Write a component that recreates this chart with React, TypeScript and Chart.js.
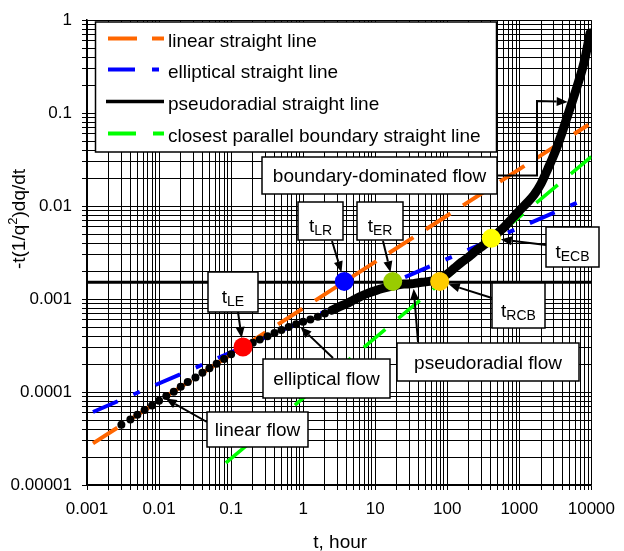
import React, { useEffect, useRef } from 'react';
import { Chart, registerables } from 'chart.js';

Chart.register(...registerables);

// ---- data ----
// measured data: early part drawn as separate dots
const dotT = [0.003, 0.004, 0.005, 0.0063, 0.008, 0.01, 0.0126, 0.016, 0.02, 0.025, 0.032, 0.04, 0.05, 0.063, 0.08, 0.1, 0.126, 0.16, 0.2, 0.25, 0.32, 0.4, 0.5, 0.63, 0.8, 1, 1.26, 1.6, 2, 2.5];
const dotY = [4.45e-5, 5.08e-5, 5.7e-5, 6.4e-5, 7.18e-5, 8.05e-5, 9.04e-5, 1.01e-4, 1.14e-4, 1.28e-4, 1.43e-4, 1.61e-4, 1.8e-4, 2.02e-4, 2.27e-4, 2.55e-4, 2.85e-4, 3.13e-4, 3.39e-4, 3.67e-4, 3.98e-4, 4.32e-4, 4.65e-4, 5.01e-4, 5.37e-4, 5.69e-4, 6.03e-4, 6.46e-4, 7.0e-4, 7.59e-4];
// measured data: later part (dense, appears as thick line)
const curveT = [2.5, 3.2, 4, 5, 6.3, 8, 10, 12.6, 16, 20, 25, 32, 40, 50, 63, 80, 100, 126, 160, 200, 250, 320, 400, 500, 630, 800, 1000, 1260, 1600, 2000, 2500, 3200, 4000, 5000, 6300, 8000, 9600];
const curveY = [7.59e-4, 8.32e-4, 8.91e-4, 9.77e-4, 1.07e-3, 1.16e-3, 1.23e-3, 1.3e-3, 1.36e-3, 1.41e-3, 1.45e-3, 1.46e-3, 1.5e-3, 1.53e-3, 1.58e-3, 1.66e-3, 1.86e-3, 2.16e-3, 2.51e-3, 2.85e-3, 3.31e-3, 3.8e-3, 4.37e-3, 5.13e-3, 6.03e-3, 7.41e-3, 8.91e-3, 1.07e-2, 1.32e-2, 1.74e-2, 2.54e-2, 3.98e-2, 6.46e-2, 0.11, 0.191, 0.363, 0.73];
// straight lines
const linearT = [0.00121, 9100];
const linearY = [2.8e-5, 0.075];
const ellipT = [0.00121, 9100];
const ellipY = [6.1e-5, 0.0123];
const pseudoT = [0.001, 10000];
const pseudoY = [0.00152, 0.00152];
const boundT = [0.0845, 10000];
const boundY = [1.73e-5, 0.034];
// key time markers: tLE, tLR, tER, tRCB, tECB
const keyT = [0.146, 3.72, 17.5, 78.5, 409];
const keyY = [3.05e-4, 1.55e-3, 1.55e-3, 1.55e-3, 4.5e-3];
const keyColors = ['#ff0000', '#0000ff', '#99cc00', '#ffcc00', '#ffff00'];
// tick labels
const xTickLabels = ['0.001', '0.01', '0.1', '1', '10', '100', '1000', '10000'];
const yTickLabels = ['0.00001', '0.0001', '0.001', '0.01', '0.1', '1'];
const legendLabels = ['linear straight line', 'elliptical straight line', 'pseudoradial straight line', 'closest parallel boundary straight line'];
const legendColors = ['#ff6600', '#0000ff', '#000000', '#00ff00'];

const FONT = '"Liberation Sans", Arial, Helvetica, sans-serif';

function decadeLabel(value: number, labels: string[], minExp: number) {
  const lg = Math.log10(value);
  const r = Math.round(lg);
  if (Math.abs(lg - r) < 1e-6) return labels[r - minExp] ?? '';
  return '';
}

function logTicks(minExp: number, maxExp: number) {
  const arr: { value: number }[] = [];
  for (let e = minExp; e < maxExp; e++) {
    for (let m = 1; m <= 9; m++) arr.push({ value: m * Math.pow(10, e) });
  }
  arr.push({ value: Math.pow(10, maxExp) });
  return arr;
}

const pts = (xs: number[], ys: number[]) => xs.map((x, i) => ({ x, y: ys[i] }));

type Box = { x1: number; y1: number; x2: number; y2: number; main: string; sub?: string };
const boxes: Box[] = [
  { x1: 262, y1: 157, x2: 497, y2: 194, main: 'boundary-dominated flow' },
  { x1: 298, y1: 202, x2: 343, y2: 240, main: 't', sub: 'LR' },
  { x1: 357, y1: 202, x2: 403, y2: 240, main: 't', sub: 'ER' },
  { x1: 546, y1: 227, x2: 599, y2: 267, main: 't', sub: 'ECB' },
  { x1: 208, y1: 272, x2: 258, y2: 312, main: 't', sub: 'LE' },
  { x1: 492, y1: 283, x2: 545, y2: 328, main: 't', sub: 'RCB' },
  { x1: 263, y1: 359, x2: 390, y2: 398, main: 'elliptical flow' },
  { x1: 207, y1: 412, x2: 308, y2: 447, main: 'linear flow' },
  { x1: 397, y1: 343, x2: 579, y2: 381, main: 'pseudoradial flow' },
];

type Arrow = { path: [number, number][]; key?: number; t?: number; v?: number; gap: number };
const arrows: Arrow[] = [
  { path: [[497, 175.5], [537, 175.5], [537, 101]], t: 4690, v: 0.132, gap: 0 },
  { path: [[332, 241]], key: 1, gap: 9.5 },
  { path: [[383, 241]], key: 2, gap: 9.5 },
  { path: [[546, 245]], key: 4, gap: 9.5 },
  { path: [[238, 312]], key: 0, gap: 9 },
  { path: [[492, 298]], key: 3, gap: 9.5 },
  { path: [[333, 358]], t: 0.918, v: 5.0e-4, gap: 0 },
  { path: [[207, 422]], t: 0.01236, v: 8.5e-5, gap: 0 },
  { path: [[418, 342]], t: 34.2, v: 1.29e-3, gap: 0 },
];

function drawArrow(ctx: CanvasRenderingContext2D, p: [number, number][], gap: number) {
  const n = p.length;
  const [ex, ey] = p[n - 1];
  const [sx, sy] = p[n - 2];
  const dx = ex - sx, dy = ey - sy;
  const L = Math.hypot(dx, dy) || 1;
  const ux = dx / L, uy = dy / L;
  const tipX = ex - ux * gap, tipY = ey - uy * gap;
  const head = 11, half = 4.5;
  const bx = tipX - ux * head, by = tipY - uy * head;
  ctx.beginPath();
  ctx.moveTo(p[0][0], p[0][1]);
  for (let i = 1; i < n - 1; i++) ctx.lineTo(p[i][0], p[i][1]);
  ctx.lineTo(bx, by);
  ctx.lineWidth = 2;
  ctx.strokeStyle = '#000';
  ctx.setLineDash([]);
  ctx.stroke();
  ctx.beginPath();
  ctx.moveTo(tipX, tipY);
  ctx.lineTo(bx - uy * half, by + ux * half);
  ctx.lineTo(bx + uy * half, by - ux * half);
  ctx.closePath();
  ctx.fillStyle = '#000';
  ctx.fill();
}

export default function App() {
  const ref = useRef<HTMLCanvasElement>(null);

  useEffect(() => {
    const canvas = ref.current;
    if (!canvas) return;

    const overlay = {
      id: 'overlay',
      afterDatasetsDraw(chart: any) {
        const ctx: CanvasRenderingContext2D = chart.ctx;
        const xs = chart.scales.x, ys = chart.scales.y;
        const px = (t: number) => xs.getPixelForValue(t);
        const py = (v: number) => ys.getPixelForValue(v);
        ctx.save();

        // legend
        ctx.fillStyle = '#fff';
        ctx.fillRect(95, 22, 401, 130);
        ctx.strokeStyle = '#000';
        ctx.lineWidth = 1.5;
        ctx.setLineDash([]);
        ctx.strokeRect(95.5, 22, 401, 130);
        const rowY = [38.5, 69.5, 101.5, 133.5];
        const legendDash = [[29, 15], [27, 17, 7, 17], [], [28, 17]];
        legendLabels.forEach((lab, i) => {
          ctx.beginPath();
          ctx.setLineDash(legendDash[i]);
          ctx.lineDashOffset = 0;
          ctx.lineCap = 'butt';
          ctx.strokeStyle = legendColors[i];
          ctx.lineWidth = i === 2 ? 3.5 : 4;
          ctx.moveTo(i === 2 ? 106 : 108, rowY[i]);
          ctx.lineTo(164, rowY[i]);
          ctx.stroke();
          ctx.setLineDash([]);
          ctx.fillStyle = '#000';
          ctx.font = '19px ' + FONT;
          ctx.textAlign = 'left';
          ctx.textBaseline = 'alphabetic';
          ctx.fillText(lab, 168, rowY[i] + 8);
        });

        // arrows
        arrows.forEach((a) => {
          let tx: number, ty: number;
          if (a.key !== undefined) {
            tx = px(keyT[a.key]);
            ty = py(keyY[a.key]);
          } else {
            tx = px(a.t as number);
            ty = py(a.v as number);
          }
          const path: [number, number][] = a.path.map((q) => [q[0], q[1]] as [number, number]);
          path.push([tx, ty]);
          drawArrow(ctx, path, a.gap);
        });

        // annotation boxes
        boxes.forEach((b) => {
          ctx.fillStyle = '#fff';
          ctx.fillRect(b.x1, b.y1, b.x2 - b.x1, b.y2 - b.y1);
          ctx.strokeStyle = '#000';
          ctx.lineWidth = 1.5;
          ctx.setLineDash([]);
          ctx.strokeRect(b.x1, b.y1, b.x2 - b.x1, b.y2 - b.y1);
          const cx = (b.x1 + b.x2) / 2;
          const cy = (b.y1 + b.y2) / 2;
          ctx.fillStyle = '#000';
          ctx.textBaseline = 'alphabetic';
          ctx.textAlign = 'left';
          if (b.sub) {
            ctx.font = '19px ' + FONT;
            const w1 = ctx.measureText(b.main).width;
            ctx.font = '14px ' + FONT;
            const w2 = ctx.measureText(b.sub).width;
            const x0 = cx - (w1 + w2) / 2;
            const base = cy + 11;
            ctx.font = '19px ' + FONT;
            ctx.fillText(b.main, x0, base);
            ctx.font = '14px ' + FONT;
            ctx.fillText(b.sub, x0 + w1, base + 3);
          } else {
            ctx.font = '19px ' + FONT;
            ctx.textAlign = 'center';
            ctx.fillText(b.main, cx, cy + 6.5);
          }
        });

        // axis titles
        ctx.fillStyle = '#000';
        ctx.textAlign = 'center';
        ctx.textBaseline = 'alphabetic';
        ctx.font = '19px ' + FONT;
        ctx.fillText('t, hour', (chart.chartArea.left + chart.chartArea.right) / 2 + 1, 548);

        ctx.save();
        ctx.translate(25, 219);
        ctx.rotate(-Math.PI / 2);
        ctx.textAlign = 'left';
        const partA = '-t(1/q';
        const partB = '2';
        const partC = ')dq/dt';
        ctx.font = '19px ' + FONT;
        const wa = ctx.measureText(partA).width;
        const wc = ctx.measureText(partC).width;
        ctx.font = '13px ' + FONT;
        const wb = ctx.measureText(partB).width;
        let x = -(wa + wb + wc) / 2;
        ctx.font = '19px ' + FONT;
        ctx.fillText(partA, x, 0);
        x += wa;
        ctx.font = '13px ' + FONT;
        ctx.fillText(partB, x, -8);
        x += wb;
        ctx.font = '19px ' + FONT;
        ctx.fillText(partC, x, 0);
        ctx.restore();

        ctx.restore();
      },
    };

    const chart = new Chart(canvas, {
      type: 'scatter',
      data: {
        datasets: [
          {
            label: 'key times',
            data: pts(keyT, keyY),
            showLine: false,
            pointRadius: 9.5,
            pointBorderWidth: 0,
            pointBackgroundColor: keyColors,
            pointBorderColor: keyColors,
          },
          {
            label: 'data',
            data: pts(dotT, dotY),
            showLine: false,
            pointRadius: 4,
            pointBorderWidth: 0,
            pointBackgroundColor: '#000',
            pointBorderColor: '#000',
          },
          {
            label: 'data (dense)',
            data: pts(curveT, curveY),
            showLine: true,
            borderColor: '#000',
            borderWidth: 9,
            borderCapStyle: 'round',
            borderJoinStyle: 'round',
            cubicInterpolationMode: 'monotone',
            pointRadius: 0,
          },
          {
            label: legendLabels[2],
            data: pts(pseudoT, pseudoY),
            showLine: true,
            borderColor: legendColors[2],
            borderWidth: 3,
            pointRadius: 0,
          },
          {
            label: legendLabels[0],
            data: pts(linearT, linearY),
            showLine: true,
            borderColor: legendColors[0],
            borderWidth: 4,
            borderDash: [29, 15],
            pointRadius: 0,
          },
          {
            label: legendLabels[1],
            data: pts(ellipT, ellipY),
            showLine: true,
            borderColor: legendColors[1],
            borderWidth: 4,
            borderDash: [27, 17, 7, 17],
            pointRadius: 0,
          },
          {
            label: legendLabels[3],
            data: pts(boundT, boundY),
            showLine: true,
            borderColor: legendColors[3],
            borderWidth: 3.5,
            borderDash: [28, 17],
            pointRadius: 0,
          },
        ],
      },
      options: {
        responsive: false,
        maintainAspectRatio: false,
        devicePixelRatio: 1,
        animation: false,
        events: [],
        layout: { padding: { top: 19, right: 26, bottom: 0, left: 0 } },
        plugins: {
          legend: { display: false },
          tooltip: { enabled: false },
          title: { display: false },
        },
        scales: {
          x: {
            type: 'logarithmic',
            position: 'bottom',
            min: 0.001,
            max: 10000,
            afterBuildTicks: (scale: any) => {
              scale.ticks = logTicks(-3, 4);
            },
            afterFit: (scale: any) => {
              scale.height = 66;
            },
            ticks: {
              autoSkip: false,
              maxRotation: 0,
              minRotation: 0,
              padding: 9,
              color: '#000',
              font: { family: FONT, size: 17 },
              callback: (v: any) => decadeLabel(Number(v), xTickLabels, -3),
            },
            grid: { color: '#000', lineWidth: 1, tickLength: 5, drawTicks: true },
            border: { display: true, color: '#000', width: 1.5 },
          },
          y: {
            type: 'logarithmic',
            position: 'left',
            min: 0.00001,
            max: 1,
            afterBuildTicks: (scale: any) => {
              scale.ticks = logTicks(-5, 0);
            },
            afterFit: (scale: any) => {
              scale.width = 87;
            },
            ticks: {
              autoSkip: false,
              padding: 10,
              color: '#000',
              font: { family: FONT, size: 17 },
              callback: (v: any) => decadeLabel(Number(v), yTickLabels, -5),
            },
            grid: { color: '#000', lineWidth: 1, tickLength: 5, drawTicks: true },
            border: { display: true, color: '#000', width: 1.5 },
          },
        },
      } as any,
      plugins: [overlay],
    });

    return () => chart.destroy();
  }, []);

  return (
    <div style={{ position: 'absolute', left: 0, top: 0, width: 624, height: 551, background: '#fff' }}>
      <canvas ref={ref} width={624} height={551} style={{ display: 'block', width: 624, height: 551 }} />
    </div>
  );
}
